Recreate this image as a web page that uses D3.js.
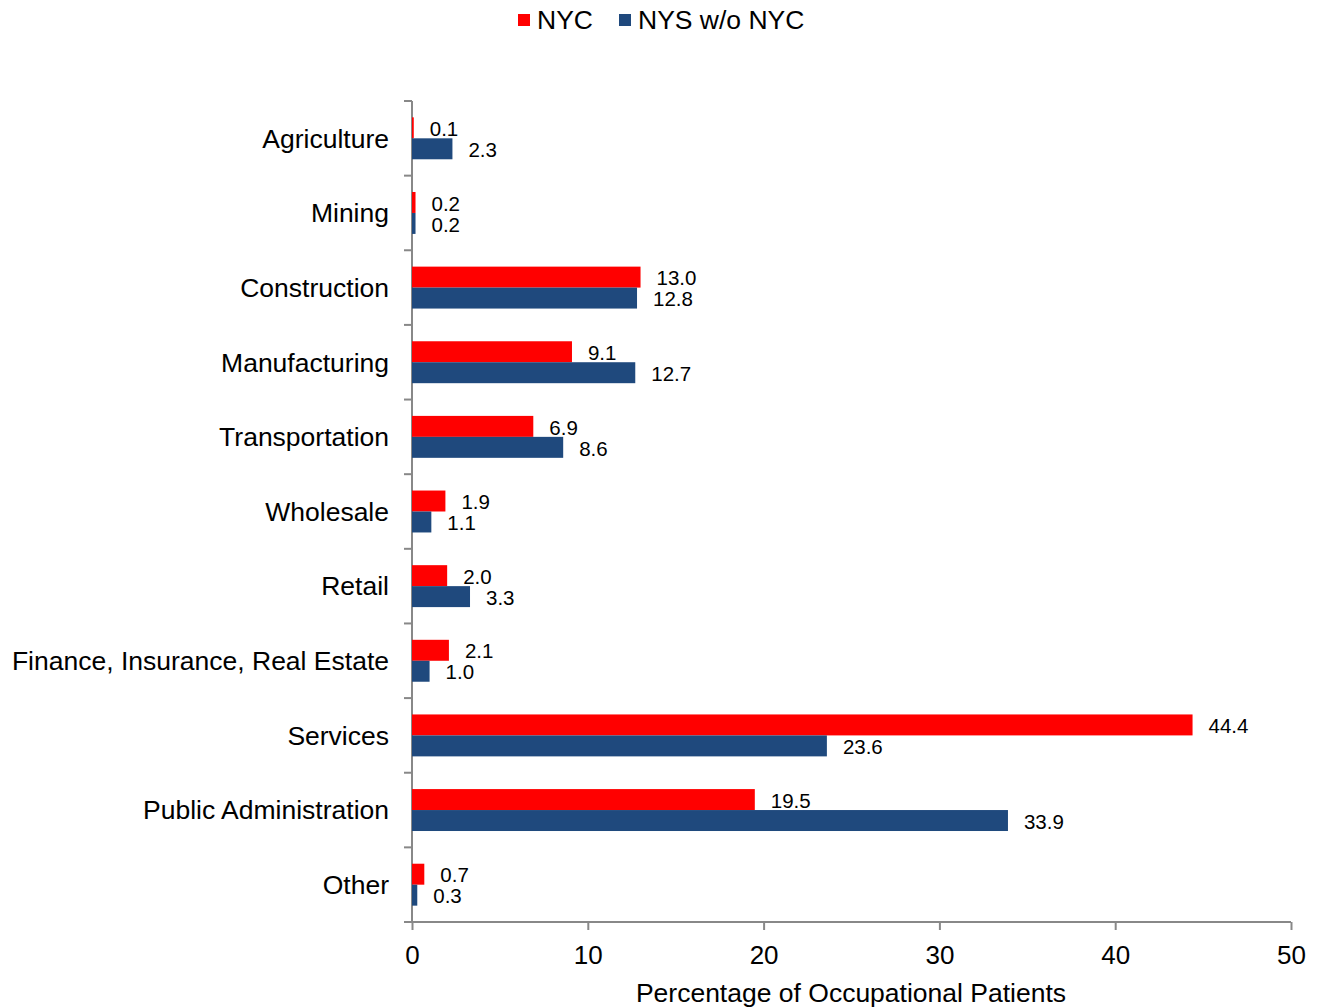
<!DOCTYPE html>
<html>
<head>
<meta charset="utf-8">
<script src="https://cdn.jsdelivr.net/npm/d3@7"></script>
<style>
  body { margin: 0; background: #fff; }
  text { font-family: "Liberation Sans", Arial, sans-serif; fill: #000; }
</style>
</head>
<body>
<svg id="chart" width="1318" height="1008"></svg>
<script>
var categories = ["Agriculture", "Mining", "Construction", "Manufacturing", "Transportation",
  "Wholesale", "Retail", "Finance, Insurance, Real Estate", "Services", "Public Administration", "Other"];
var nycValues = [0.1, 0.2, 13.0, 9.1, 6.9, 1.9, 2.0, 2.1, 44.4, 19.5, 0.7];
var nysValues = [2.3, 0.2, 12.8, 12.7, 8.6, 1.1, 3.3, 1.0, 23.6, 33.9, 0.3];
var seriesNames = ["NYC", "NYS w/o NYC"];
var xTicks = [0, 10, 20, 30, 40, 50];

var colors = ["#FF0000", "#1F497D"];
var svg = d3.select("#chart");

var margin = { top: 101, left: 412, right: 27, bottom: 86 };
var width = 1318 - margin.left - margin.right;
var height = 1008 - margin.top - margin.bottom;

var g = svg.append("g").attr("transform", "translate(" + margin.left + "," + margin.top + ")");

var x = d3.scaleLinear().domain([0, 50]).range([0, width]);
var y = d3.scaleBand().domain(categories).range([0, height]);
var sub = d3.scaleBand().domain([0, 1]).range([0, y.bandwidth()]).paddingInner(0).paddingOuter(0.78);

var rows = categories.map(function(c, i) {
  return { cat: c, vals: [nycValues[i], nysValues[i]] };
});

// y axis (drawn first so the tiny bars sit on top)
var axisColor = "#888888";
g.append("line").attr("x1", 0).attr("x2", 0).attr("y1", 0).attr("y2", height)
  .attr("stroke", axisColor).attr("stroke-width", 2);
var boundaries = categories.map(function(c) { return y(c); }).concat([height]);
g.selectAll(".ytick").data(boundaries).enter().append("line")
  .attr("x1", -8).attr("x2", 0)
  .attr("y1", function(d) { return d; }).attr("y2", function(d) { return d; })
  .attr("stroke", axisColor).attr("stroke-width", 2);
g.selectAll(".ylab").data(categories).enter().append("text")
  .attr("x", -23)
  .attr("y", function(d) { return y(d) + y.bandwidth() / 2; })
  .attr("dy", "0.35em")
  .attr("text-anchor", "end")
  .style("font-size", "26.5px")
  .text(function(d) { return d; });

// bars
var rowG = g.selectAll(".row").data(rows).enter().append("g")
  .attr("transform", function(d) { return "translate(0," + y(d.cat) + ")"; });

rowG.selectAll("rect").data(function(d) { return d.vals; }).enter().append("rect")
  .attr("x", 0)
  .attr("y", function(d, i) { return sub(i); })
  .attr("width", function(d) { return x(d); })
  .attr("height", sub.bandwidth())
  .attr("fill", function(d, i) { return colors[i]; });

rowG.selectAll("text.val").data(function(d) { return d.vals; }).enter().append("text")
  .attr("class", "val")
  .attr("x", function(d) { return x(d) + 16; })
  .attr("y", function(d, i) { return sub(i) + sub.bandwidth() / 2 + 1; })
  .attr("dy", "0.35em")
  .style("font-size", "20.5px")
  .text(function(d) { return d.toFixed(1); });

// x axis
var xAxis = g.append("g").attr("transform", "translate(0," + height + ")")
  .call(d3.axisBottom(x).tickValues(xTicks).tickSize(8).tickSizeOuter(0).tickFormat(d3.format("d")));
xAxis.select(".domain").attr("stroke", axisColor).attr("stroke-width", 2).attr("d", "M-8,0H" + width);
xAxis.selectAll(".tick line").attr("stroke", axisColor).attr("stroke-width", 2);
xAxis.selectAll(".tick text").attr("y", 24).style("font-size", "26px").style("font-family", "Liberation Sans, Arial, sans-serif").attr("fill", "#000");

svg.append("text")
  .attr("x", 851)
  .attr("y", 1002)
  .attr("text-anchor", "middle")
  .style("font-size", "26.5px")
  .text("Percentage of Occupational Patients");

// legend
var legendX = [518, 619];
var lg = svg.selectAll(".leg").data(seriesNames).enter().append("g")
  .attr("transform", function(d, i) { return "translate(" + legendX[i] + ",14)"; });
lg.append("rect").attr("width", 12).attr("height", 12).attr("fill", function(d, i) { return colors[i]; });
lg.append("text").attr("x", 19).attr("y", 6).attr("dy", "0.35em")
  .style("font-size", "26.5px").text(function(d) { return d; });
</script>
</body>
</html>
